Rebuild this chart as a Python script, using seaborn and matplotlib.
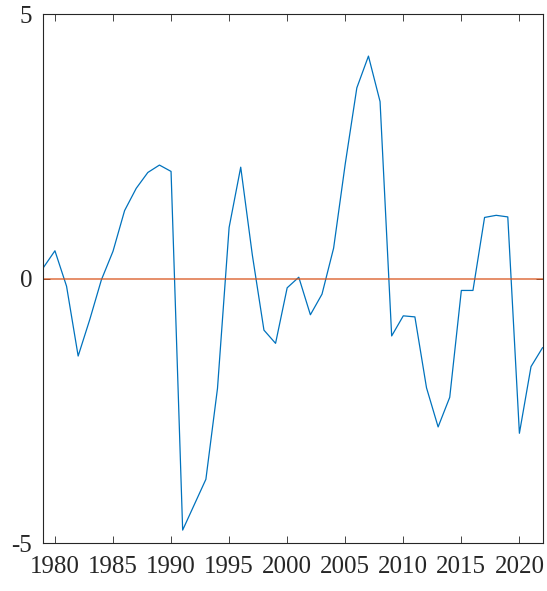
import numpy as np
import pandas as pd
import matplotlib
matplotlib.use("Agg")
import matplotlib.pyplot as plt
import seaborn as sns

years = list(range(1979, 2023))
values = [0.21, 0.53, -0.14, -1.46, -0.77, -0.02, 0.52, 1.29, 1.71, 2.01, 2.15, 2.03,
          -4.75, -4.27, -3.79, -2.07, 0.97, 2.11, 0.45, -0.97, -1.22, -0.17, 0.03, -0.68,
          -0.29, 0.58, 2.17, 3.61, 4.21, 3.35, -1.08, -0.70, -0.72, -2.06, -2.80, -2.24,
          -0.22, -0.22, 1.16, 1.20, 1.17, -2.92, -1.66, -1.30]
xticks = [1980, 1985, 1990, 1995, 2000, 2005, 2010, 2015, 2020]
yticks = [-5, 0, 5]

df = pd.DataFrame({"year": years, "value": values})

sns.set_style("ticks")
plt.rcParams['font.family'] = ['Liberation Serif', 'DejaVu Serif']
plt.rcParams['axes.unicode_minus'] = False

fig = plt.figure(figsize=(5.47, 5.91), dpi=100)
ax = fig.add_axes([0.0792, 0.0807, 0.9128, 0.8951])

sns.lineplot(data=df, x="year", y="value", color="#0072BD", linewidth=0.9, ax=ax)
ax.axhline(0, color="#D95319", linewidth=1.3, alpha=0.7)

ax.set_xlim(1979, 2022)
ax.set_ylim(-5, 5)
ax.set_xticks(xticks)
ax.set_yticks(yticks)
ax.set_xlabel("")
ax.set_ylabel("")
ax.tick_params(direction="in", length=5, width=0.6, colors="#262626",
               labelsize=18, top=True, right=True)
ax.tick_params(axis="x", pad=9)
ax.tick_params(axis="y", pad=8)
for s in ax.spines.values():
    s.set_visible(True)
    s.set_linewidth(0.8)
    s.set_color("#262626")

fig.savefig("out.png", dpi=100)
